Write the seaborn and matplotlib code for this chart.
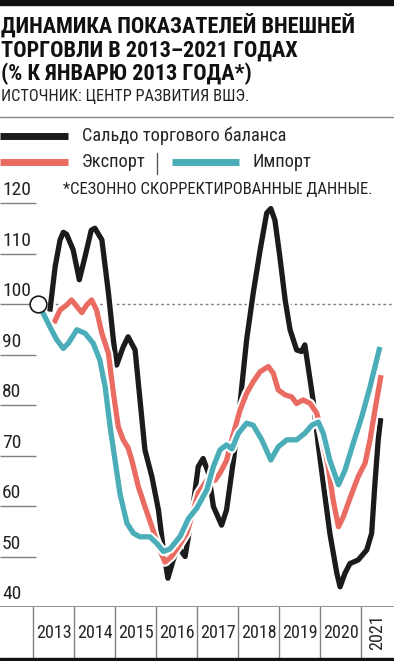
import numpy as np
import pandas as pd
import matplotlib
matplotlib.use("Agg")
import matplotlib.pyplot as plt
import matplotlib.patheffects as pe
from matplotlib import font_manager
from matplotlib.lines import Line2D
from matplotlib.patches import Rectangle
import seaborn as sns

# --- data (x = fractional year, y = % of Jan 2013) ---
saldo_x = [2013.41, 2013.54, 2013.66, 2013.74, 2013.82, 2013.98, 2014.13, 2014.27, 2014.42, 2014.51,
           2014.68, 2014.84, 2014.96, 2015.04, 2015.20, 2015.32, 2015.49, 2015.61, 2015.73, 2015.90,
           2016.06, 2016.18, 2016.29, 2016.42, 2016.54, 2016.71, 2016.87, 2017.03, 2017.15,
           2017.28, 2017.40, 2017.60, 2017.72, 2017.89, 2018.05, 2018.21, 2018.37, 2018.54,
           2018.70, 2018.80, 2018.90, 2019.02, 2019.15, 2019.27, 2019.43, 2019.55, 2019.63,
           2019.71, 2019.84, 2019.96, 2020.08, 2020.24, 2020.41, 2020.49, 2020.61, 2020.73,
           2020.93, 2021.14, 2021.26, 2021.34, 2021.42, 2021.48]
saldo_y = [98.5, 107.4, 112.7, 114.2, 113.8, 110.7, 104.8, 109.4, 114.6, 115.0,
           112.7, 102.2, 92.9, 87.9, 91.5, 93.5, 90.9, 81.0, 71.1, 65.8,
           59.2, 51.3, 45.7, 49.3, 51.9, 50.0, 57.9, 67.8, 69.4,
           66.5, 59.9, 56.2, 59.2, 69.1, 80.3, 92.9, 102.1, 110.7,
           118.0, 118.9, 116.6, 109.4, 100.8, 94.9, 90.9, 90.6, 91.9,
           87.6, 80.5, 72.0, 64.5, 54.6, 46.7, 44.0, 46.7, 48.6,
           49.3, 51.3, 54.6, 64.5, 73.1, 77.4]

export_x = [2013.51, 2013.66, 2013.82, 2013.94, 2014.07, 2014.19, 2014.31, 2014.43, 2014.55,
            2014.68, 2014.84, 2014.96, 2015.08, 2015.20, 2015.32, 2015.41, 2015.57, 2015.73,
            2015.90, 2016.06, 2016.22, 2016.38, 2016.54, 2016.75, 2016.87, 2017.03, 2017.24,
            2017.44, 2017.56, 2017.72, 2017.89, 2018.05, 2018.21, 2018.37, 2018.54, 2018.74,
            2018.86, 2018.98, 2019.15, 2019.31, 2019.43, 2019.59, 2019.76, 2019.92, 2020.04,
            2020.20, 2020.32, 2020.45, 2020.57, 2020.73, 2020.93, 2021.10, 2021.22, 2021.34,
            2021.49]
export_y = [96.2, 98.8, 99.8, 100.8, 99.5, 98.3, 99.8, 100.8, 98.8,
            94.2, 90.2, 82.3, 75.7, 73.1, 71.5, 69.1, 63.8, 59.9,
            55.9, 51.9, 48.9, 50.0, 51.9, 54.6, 57.9, 62.5, 65.1,
            65.1, 66.5, 69.0, 74.4, 79.0, 82.3, 84.6, 86.6, 87.6,
            86.3, 83.0, 82.0, 81.6, 80.3, 81.0, 80.3, 78.4, 74.4,
            67.8, 61.2, 55.9, 57.9, 61.5, 65.8, 68.5, 73.1, 79.0,
            85.9]

import_x = [2013.13, 2013.21, 2013.41, 2013.58, 2013.74, 2013.86, 2014.07, 2014.27, 2014.47,
            2014.63, 2014.76, 2014.88, 2015.00, 2015.12, 2015.29, 2015.45, 2015.61, 2015.85,
            2016.02, 2016.18, 2016.34, 2016.59, 2016.79, 2016.99, 2017.24, 2017.40, 2017.56,
            2017.72, 2017.85, 2018.01, 2018.21, 2018.37, 2018.58, 2018.80, 2018.98, 2019.19,
            2019.43, 2019.63, 2019.80, 2019.96, 2020.08, 2020.24, 2020.45, 2020.61, 2020.81,
            2021.02, 2021.22, 2021.46]
import_y = [100.0, 98.8, 95.5, 92.9, 91.2, 92.2, 94.9, 94.2, 92.2,
            88.9, 83.6, 75.7, 69.1, 62.5, 56.6, 54.6, 53.9, 53.9,
            52.6, 51.0, 51.5, 54.0, 57.5, 59.5, 63.2, 67.8, 71.1,
            72.1, 71.3, 74.4, 76.4, 76.0, 73.1, 69.1, 71.7, 73.1,
            73.1, 74.4, 76.0, 76.6, 74.4, 69.1, 64.2, 67.1, 72.4,
            77.7, 83.6, 91.5]

yticks = [40, 50, 60, 70, 80, 90, 100, 110, 120]
years = ["2013", "2014", "2015", "2016", "2017", "2018", "2019", "2020", "2021"]

title = "ДИНАМИКА ПОКАЗАТЕЛЕЙ ВНЕШНЕЙ\nТОРГОВЛИ В 2013–2021 ГОДАХ\n(% К ЯНВАРЮ 2013 ГОДА*)"
source = "ИСТОЧНИК: ЦЕНТР РАЗВИТИЯ ВШЭ."
note = "*СЕЗОННО СКОРРЕКТИРОВАННЫЕ ДАННЫЕ."
names = ["Сальдо торгового баланса", "Экспорт", "Импорт"]

colors = {"black": "#1b1b1d", "red": "#e96b62", "teal": "#4aadb8", "grey": "#808080"}

sns.set_style("white")
installed = {f.name for f in font_manager.fontManager.ttflist}
narrow = next((f for f in ["Roboto Condensed", "Liberation Sans Narrow", "Open Sans Condensed"]
               if f in installed), "Liberation Sans")
plt.rcParams["font.family"] = [narrow, "DejaVu Sans"]

W, H = 394, 661
fig = plt.figure(figsize=(W / 100, H / 100), dpi=100)
fx = lambda px: px / W
fy = lambda py: 1 - py / H

x0, x1 = 2013 - 33 / 41, 2013 + 361 / 41
ax = fig.add_axes([0, fy(607), 1, (607 - 190) / H])
ax.set_xlim(x0, x1)
ax.set_ylim(40, 40 + (607 - 190) / 5.05)
ax.axis("off")

# grid stubs + labels on the left
for v in yticks:
    if v > 40:
        ax.hlines(v, x0, x0 + 36 / 41, color=colors["grey"], lw=1)
    ax.text(x0 + 2 / 41, v + 0.7, str(v), fontsize=14, color="#222222", va="bottom", ha="left")
ax.hlines(100, 2013.28, x1, color=colors["grey"], lw=1, linestyles=(0, (2, 2)))
ax.axhline(40, color=colors["grey"], lw=1.2)

halo = lambda lw: [pe.Stroke(linewidth=lw + 3, foreground="white"), pe.Normal()]
lw = 3.8
for xs, ys, c in [(saldo_x, saldo_y, "black"), (export_x, export_y, "red"), (import_x, import_y, "teal")]:
    df = pd.DataFrame({"x": xs, "y": ys})
    sns.lineplot(data=df, x="x", y="y", sort=False, estimator=None, ax=ax, color=colors[c],
                 lw=lw, solid_capstyle="butt", solid_joinstyle="round", path_effects=halo(lw))
ax.plot([import_x[0]], [import_y[0]], "o", ms=12, mfc="white", mec="#1b1b1d", mew=1.2, zorder=10)
ax.set_xlim(x0, x1)

# year strip
axy = fig.add_axes([0, fy(658), 1, (658 - 607) / H])
axy.set_xlim(x0, x1)
axy.set_ylim(0, 1)
axy.axis("off")
for i, yr in enumerate(years):
    axy.axvline(2013 + i, color=colors["grey"], lw=1)
    if yr == "2021":
        axy.text((2021 + x1) / 2, 0.5, yr, rotation=90, ha="center", va="center", fontsize=13)
    else:
        axy.text(2013 + i + 0.5, 0.5, yr, ha="center", va="center", fontsize=13)

# header
fig.add_artist(Rectangle((0, fy(5)), 1, 5 / H, transform=fig.transFigure, color="#111111"))
fig.add_artist(Rectangle((0, 0), 1, 3 / H, transform=fig.transFigure, color="#111111"))
fig.text(fx(1), fy(13), title, fontsize=16, fontweight="bold", va="top", ha="left",
         linespacing=1.1, color="#111111")
fig.text(fx(1), fy(97), source, fontsize=11.8, va="center", ha="left", color="#222222")
fig.add_artist(Line2D([0, 1], [fy(117), fy(117)], transform=fig.transFigure, color="#888888", lw=1))

# legend
fig.add_artist(Line2D([0, fx(68)], [fy(136)] * 2, transform=fig.transFigure, color=colors["black"],
                      lw=5, solid_capstyle="butt"))
fig.text(fx(82), fy(136), names[0], fontsize=13.2, va="center", ha="left")
fig.add_artist(Line2D([0, fx(68)], [fy(162)] * 2, transform=fig.transFigure, color=colors["red"],
                      lw=5, solid_capstyle="butt"))
fig.text(fx(82), fy(162), names[1], fontsize=13.2, va="center", ha="left")
fig.add_artist(Line2D([fx(157)] * 2, [fy(153), fy(174)], transform=fig.transFigure, color="#555555", lw=1))
fig.add_artist(Line2D([fx(172), fx(239)], [fy(162)] * 2, transform=fig.transFigure, color=colors["teal"],
                      lw=5, solid_capstyle="butt"))
fig.text(fx(253), fy(162), names[2], fontsize=13.2, va="center", ha="left")
fig.text(fx(63), fy(190), note, fontsize=12, va="center", ha="left", color="#222222")

fig.savefig("out.png", dpi=100)
